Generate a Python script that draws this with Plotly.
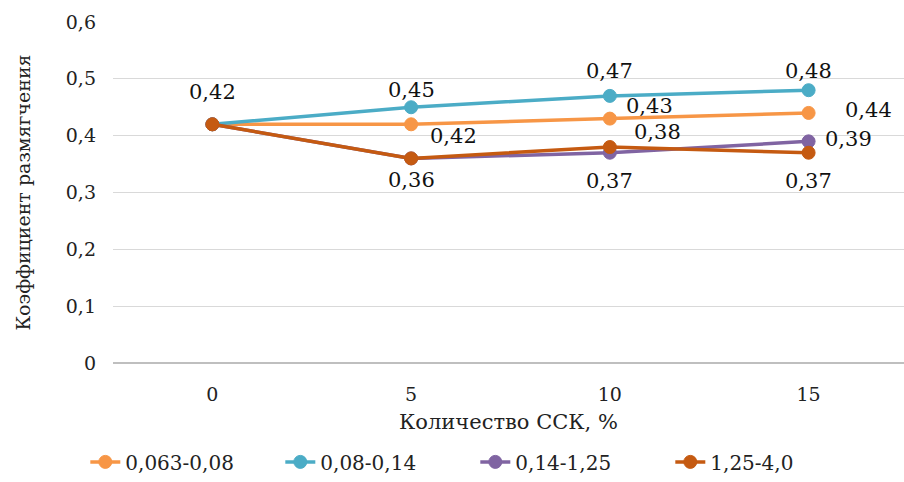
import plotly.graph_objects as go

categories = ["0", "5", "10", "15"]
series_names = ["0,063-0,08", "0,08-0,14", "0,14-1,25", "1,25-4,0"]
s1 = [0.42, 0.42, 0.43, 0.44]
s2 = [0.42, 0.45, 0.47, 0.48]
s3 = [0.42, 0.36, 0.37, 0.39]
s4 = [0.42, 0.36, 0.38, 0.37]
y_tick_vals = [0, 0.1, 0.2, 0.3, 0.4, 0.5, 0.6]
y_tick_text = ["0", "0,1", "0,2", "0,3", "0,4", "0,5", "0,6"]
colors = ["#F79646", "#4BACC6", "#8064A2", "#C55A11"]

series = [s1, s2, s3, s4]

label_specs = [
    (3, 0, 0, 32),
    (0, 1, 42, -12),
    (1, 1, 0, 17),
    (2, 1, 0, -22),
    (1, 2, 0, 25),
    (0, 2, 40, 13),
    (3, 2, 48, 15),
    (2, 2, 0, -28),
    (1, 3, 0, 19),
    (0, 3, 60, 3),
    (2, 3, 40, 2),
    (3, 3, 0, -28),
]

font = "'DejaVu Serif', serif"

fig = go.Figure()
for name, vals, c in zip(series_names, series, colors):
    fig.add_trace(go.Scatter(
        x=categories, y=vals, name=name, mode="lines+markers",
        line=dict(color=c, width=3.5),
        marker=dict(color=c, size=13, line=dict(color=c, width=1)),
    ))

for si, pi, dx, dy in label_specs:
    v = series[si][pi]
    fig.add_annotation(
        x=pi, y=v, text=f"{v:.2f}".replace(".", ","),
        showarrow=False, xshift=dx, yshift=dy,
        font=dict(family=font, size=21, color="#111111"),
    )

fig.update_layout(
    width=904, height=482,
    margin=dict(l=113, r=0, t=22, b=115),
    paper_bgcolor="white", plot_bgcolor="white",
    font=dict(family=font, size=19, color="#222222"),
    showlegend=True,
    legend=dict(orientation="h", x=-0.035, xanchor="left", y=-0.29, yanchor="middle",
                font=dict(family=font, size=20, color="#222222"),
                entrywidth=150, entrywidthmode="pixels", tracegroupgap=0),
)
fig.update_xaxes(
    type="category", range=[-0.5, 3.48], automargin=False,
    showgrid=False, showline=False, zeroline=False,
    ticks="", ticklabelstandoff=18,
    tickfont=dict(family=font, size=19),
    title=dict(text="Количество ССК, %", font=dict(family=font, size=21), standoff=10),
)
fig.update_yaxes(
    range=[0, 0.6], tickvals=y_tick_vals, ticktext=y_tick_text, automargin=False,
    showgrid=True, gridcolor="#D9D9D9", gridwidth=1.3,
    zeroline=True, zerolinecolor="#BFBFBF", zerolinewidth=1.5,
    showline=False, ticks="", ticklabelstandoff=16,
    tickfont=dict(family=font, size=19),
    title=dict(text="Коэффициент размягчения", font=dict(family=font, size=19), standoff=30),
)

fig.write_html("out.html")
